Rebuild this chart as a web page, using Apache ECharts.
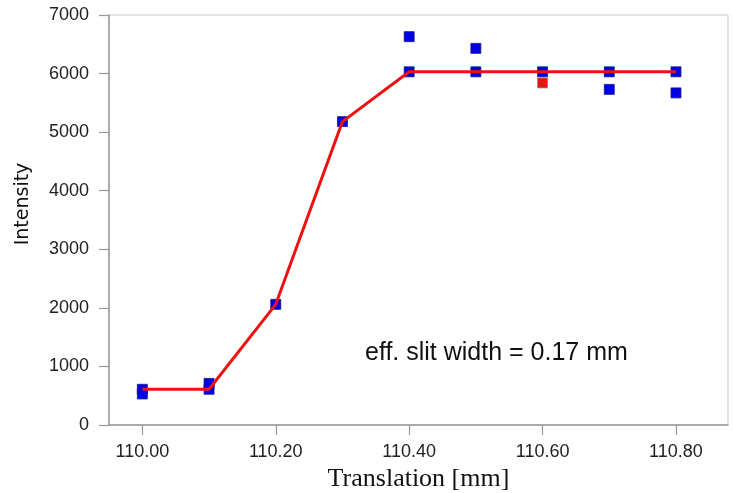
<!DOCTYPE html>
<html>
<head>
<meta charset="utf-8">
<script src="https://cdn.jsdelivr.net/npm/echarts@6/dist/echarts.min.js"></script>
<style>html,body{margin:0;padding:0;background:#fff;}#chart{width:733px;height:493px;}</style>
</head>
<body>
<div id="chart"></div>
<script>
// Data
const xTickValues = [110.0, 110.2, 110.4, 110.6, 110.8];
const yTickValues = [0, 1000, 2000, 3000, 4000, 5000, 6000, 7000];

// Fitted curve (red line)
const fitX = [110.0, 110.1, 110.2, 110.3, 110.4, 110.5, 110.6, 110.7, 110.8];
const fitY = [610, 610, 2060, 5180, 6030, 6030, 6030, 6030, 6030];

// Measured points (blue squares)
const measX = [110.0, 110.0, 110.1, 110.1, 110.2, 110.3, 110.4, 110.4, 110.5, 110.5, 110.6, 110.7, 110.7, 110.8, 110.8];
const measY = [610, 530, 610, 710, 2060, 5180, 6030, 6630, 6030, 6430, 6030, 6030, 5730, 6030, 5670];

// Highlighted point (red square)
const redX = [110.6];
const redY = [5840];

const annotation = 'eff. slit width = 0.17 mm';
const xTitle = 'Translation [mm]';
const yTitle = 'Intensity';

const pairs = (xs, ys) => xs.map((x, i) => [x, ys[i]]);

const chart = echarts.init(document.getElementById('chart'), null, {renderer: 'canvas'});
chart.setOption({
  animation: false,
  backgroundColor: '#ffffff',
  grid: {
    left: 109, right: 5, top: 15, bottom: 68,
    containLabel: false, outerBoundsMode: 'none',
    show: true, borderColor: '#c8c8c8', borderWidth: 1, backgroundColor: 'transparent'
  },
  xAxis: {
    type: 'value',
    min: 109.95, max: 110.878,
    name: xTitle,
    nameLocation: 'middle',
    nameGap: 39,
    nameTextStyle: {fontFamily: 'Liberation Serif', fontSize: 26, color: '#111'},
    axisLine: {show: true, onZero: false, lineStyle: {color: '#999', width: 1.5}},
    axisTick: {show: true, length: 10, customValues: xTickValues, lineStyle: {color: '#999', width: 1.2}},
    axisLabel: {
      customValues: xTickValues, margin: 18,
      fontFamily: 'Liberation Sans', fontSize: 18, color: '#222',
      formatter: v => v.toFixed(2)
    },
    splitLine: {show: false}
  },
  yAxis: {
    type: 'value',
    min: 0, max: 7000,
    axisLine: {show: true, onZero: false, lineStyle: {color: '#999', width: 1.5}},
    axisTick: {show: true, length: 10, customValues: yTickValues, lineStyle: {color: '#999', width: 1.2}},
    axisLabel: {
      customValues: yTickValues, margin: 20,
      fontFamily: 'Liberation Sans', fontSize: 18, color: '#222',
      formatter: v => String(v)
    },
    splitLine: {show: false}
  },
  graphic: [
    {
      type: 'text', x: 23, y: 204, rotation: Math.PI / 2,
      style: {text: yTitle, font: '19px "DejaVu Sans"', fill: '#111', textAlign: 'center', textVerticalAlign: 'middle'}
    },
    {
      type: 'text', x: 365, y: 353,
      style: {text: annotation, font: '25px "Liberation Sans"', fill: '#111', textAlign: 'left', textVerticalAlign: 'middle'}
    }
  ],
  series: [
    {
      type: 'scatter',
      data: pairs(measX, measY),
      symbol: 'rect', symbolSize: 10,
      itemStyle: {color: '#0000e6', borderColor: '#1a1a7a', borderWidth: 0.8, opacity: 1},
      z: 2
    },
    {
      type: 'scatter',
      data: pairs(redX, redY),
      symbol: 'rect', symbolSize: 10,
      itemStyle: {color: '#ee1111', borderColor: '#888', borderWidth: 0.8, opacity: 1},
      z: 2
    },
    {
      type: 'line',
      data: pairs(fitX, fitY),
      showSymbol: false,
      lineStyle: {color: '#ee1111', width: 3},
      z: 3
    }
  ]
});
</script>
</body>
</html>
